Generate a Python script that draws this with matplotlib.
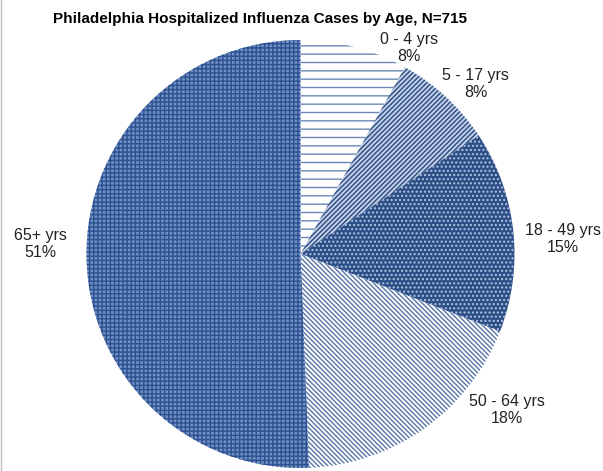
import matplotlib
matplotlib.use("Agg")
import matplotlib.pyplot as plt
from matplotlib.lines import Line2D

categories = ["0 - 4 yrs", "5 - 17 yrs", "18 - 49 yrs", "50 - 64 yrs", "65+ yrs"]
cases = [58, 54, 109, 132, 362]
title = "Philadelphia Hospitalized Influenza Cases by Age, N=715"

plt.rcParams['font.family'] = ['Liberation Sans', 'DejaVu Sans']
plt.rcParams['hatch.linewidth'] = 1.0

fig = plt.figure(figsize=(6.03, 4.71), dpi=100)
cx, cy, r = 300.5, 254, 214
W, H = 603, 471
ax = fig.add_axes([(cx - r) / W, (H - cy - r) / H, 2 * r / W, 2 * r / H])

faces = ["white", "#c3cfe4", "#2c4f88", "white", "#6f8dc0"]
hcols = ["#6a87b8", "#284a84", "#b4c4de", "#5674a8", "#2c5191"]
hatches = ["--", "///////", "....", "\\\\\\\\\\\\\\", "++++"]

wedges, _ = ax.pie(cases, startangle=90, counterclock=False, radius=1,
                   wedgeprops=dict(linewidth=0))
for w, fc, hc, h in zip(wedges, faces, hcols, hatches):
    w.set_facecolor(fc)
    w.set_edgecolor(hc)
    w.set_hatch(h)
    w.set_linewidth(0)

total = sum(cases)
label_pos = [(0.507, 0.963), (0.819, 0.795), (1.228, 0.070), (0.963, -0.730), (-1.214, 0.047)]
for (x, y), c, n in zip(label_pos, categories, cases):
    pct = round(100 * n / total)
    ax.text(x, y, f"{c}\n{pct}%", ha="center", va="center", fontsize=11.5,
            color="#222222", linespacing=1.15)

ax.set_xlim(-1, 1)
ax.set_ylim(-1, 1)
ax.set_aspect("equal")
ax.axis("off")

fig.text(260 / W, 1 - 19 / H, title, ha="center", va="center",
         fontsize=11, fontweight="bold", color="black")

fig.add_artist(Line2D([0.5 / W, 0.5 / W], [0, 1], color="#bdbdbd", lw=1, transform=fig.transFigure))
fig.add_artist(Line2D([1 - 0.5 / W, 1 - 0.5 / W], [0, 1], color="#e3e3e3", lw=1, transform=fig.transFigure))

fig.savefig("out.png", dpi=100)
